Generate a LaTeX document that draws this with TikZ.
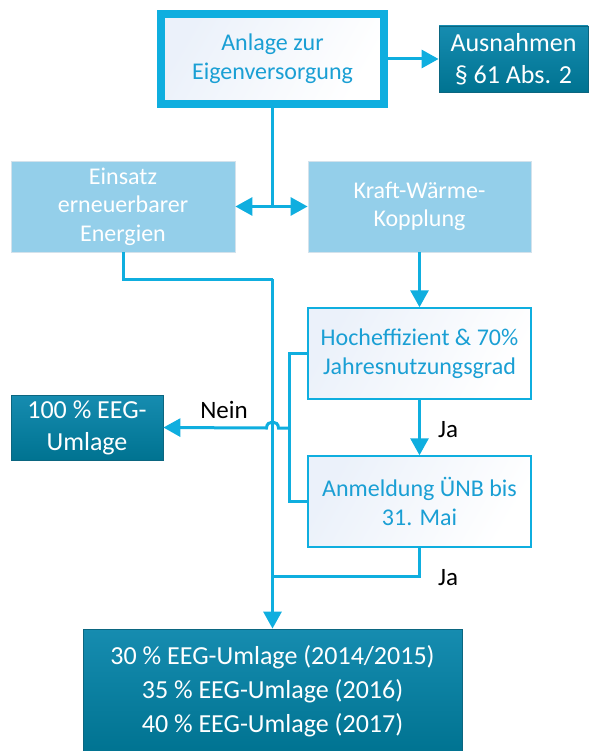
\documentclass[tikz,border=0pt]{standalone}
\usepackage{fontspec}
\setmainfont{Carlito}
\usetikzlibrary{arrows.meta}
\definecolor{lineblue}{HTML}{0FAEDF}
\definecolor{lightfill}{HTML}{94CFEA}
\definecolor{lightedge}{HTML}{D3E2EC}
\definecolor{darkA}{HTML}{168CB0}
\definecolor{darkB}{HTML}{007391}
\definecolor{darkedge}{HTML}{0B6680}
\definecolor{textblue}{HTML}{1A9FD4}
\definecolor{paleblue}{HTML}{EBF1FA}
\tikzset{
  conn/.style={draw=lineblue, line width=3pt},
  tip/.style={-{Triangle[length=17pt,width=18pt]}},
  lightbox/.style={draw=lightedge, line width=0.8pt, fill=lightfill, text=white,
    align=center, inner sep=0pt, font=\fontsize{24}{28.5}\selectfont},
  whitebox/.style={draw=lineblue, line width=1.5pt, left color=paleblue, right color=white,
    shading angle=60, text=textblue, align=center, inner sep=0pt,
    font=\fontsize{24}{29}\selectfont},
  darkbox/.style={draw=darkedge, line width=0.8pt, top color=darkA, bottom color=darkB,
    text=white, align=center, inner sep=0pt, font=\fontsize{26}{32}\selectfont},
  lbl/.style={text=black, font=\fontsize{25}{30}\selectfont, inner sep=0pt, anchor=base}
}
\begin{document}
\begin{tikzpicture}[x=1pt,y=-1pt]
\useasboundingbox (0,0) rectangle (589,751);

\node[whitebox, line width=8pt, minimum width=223pt, minimum height=90pt] (top) at (272.5,59)
  {Anlage zur\\Eigenversorgung};
\node[darkbox, minimum width=149pt, minimum height=66pt] (aus) at (513.5,59)
  {Ausnahmen\\\S\ 61 Abs. 2};
\node[lightbox, minimum width=224pt, minimum height=91pt] (ein) at (123,206.5)
  {Einsatz\\erneuerbarer\\Energien};
\node[lightbox, minimum width=223pt, minimum height=91pt] (kwk) at (419.5,206.5)
  {Kraft-Wärme-\\Kopplung};
\node[whitebox, minimum width=223pt, minimum height=91pt] (hoch) at (419.5,353.5)
  {Hocheffizient \& 70\%\\Jahresnutzungsgrad};
\node[whitebox, minimum width=223pt, minimum height=91pt] (anm) at (419.5,501.5)
  {Anmeldung ÜNB bis\\31. Mai};
\node[darkbox, minimum width=152pt, minimum height=65pt] (eeg) at (87,427.5)
  {100 \% EEG-\\Umlage};
\node[darkbox, minimum width=379pt, minimum height=124pt, font=\fontsize{26}{34}\selectfont] (bot) at (272.5,691)
  {30 \% EEG-Umlage (2014/2015)\\35 \% EEG-Umlage (2016)\\40 \% EEG-Umlage (2017)};

\coordinate (j1) at (272.5,206.5);
\coordinate (m1) at (272.5,279);
\coordinate (m2) at (272.5,576);
\coordinate (nx) at (289,428);
\coordinate (hopR) at (278.5,428);
\coordinate (hopL) at (266.5,428);

% top box connections
\draw[conn, tip] (top.east) -- (aus.west);
\draw[conn] (top.south) -- (j1);
\draw[conn, tip] (j1) -- (ein.east);
\draw[conn, tip] (j1) -- (kwk.west);

% renewable path down to bottom
\draw[conn] (ein.south) |- (m1);
\draw[conn, tip] (m1) -- (bot.north);

% CHP path
\draw[conn, tip] (kwk.south) -- (hoch.north);
\draw[conn, tip] (hoch.south) -- (anm.north);
\draw[conn] (anm.south) |- (m2);

% Nein path
\draw[conn] (hoch.west) -| (nx) |- (anm.west);
\draw[conn, tip] (nx) -- (hopR) .. controls (278.5,420) and (266.5,420) .. (hopL) -- (eeg.east);

% labels
\node[lbl] (nein) at (224,418) {Nein};
\node[lbl] (ja1) at (448,437) {Ja};
\node[lbl] (ja2) at (448,585) {Ja};
\end{tikzpicture}
\end{document}
